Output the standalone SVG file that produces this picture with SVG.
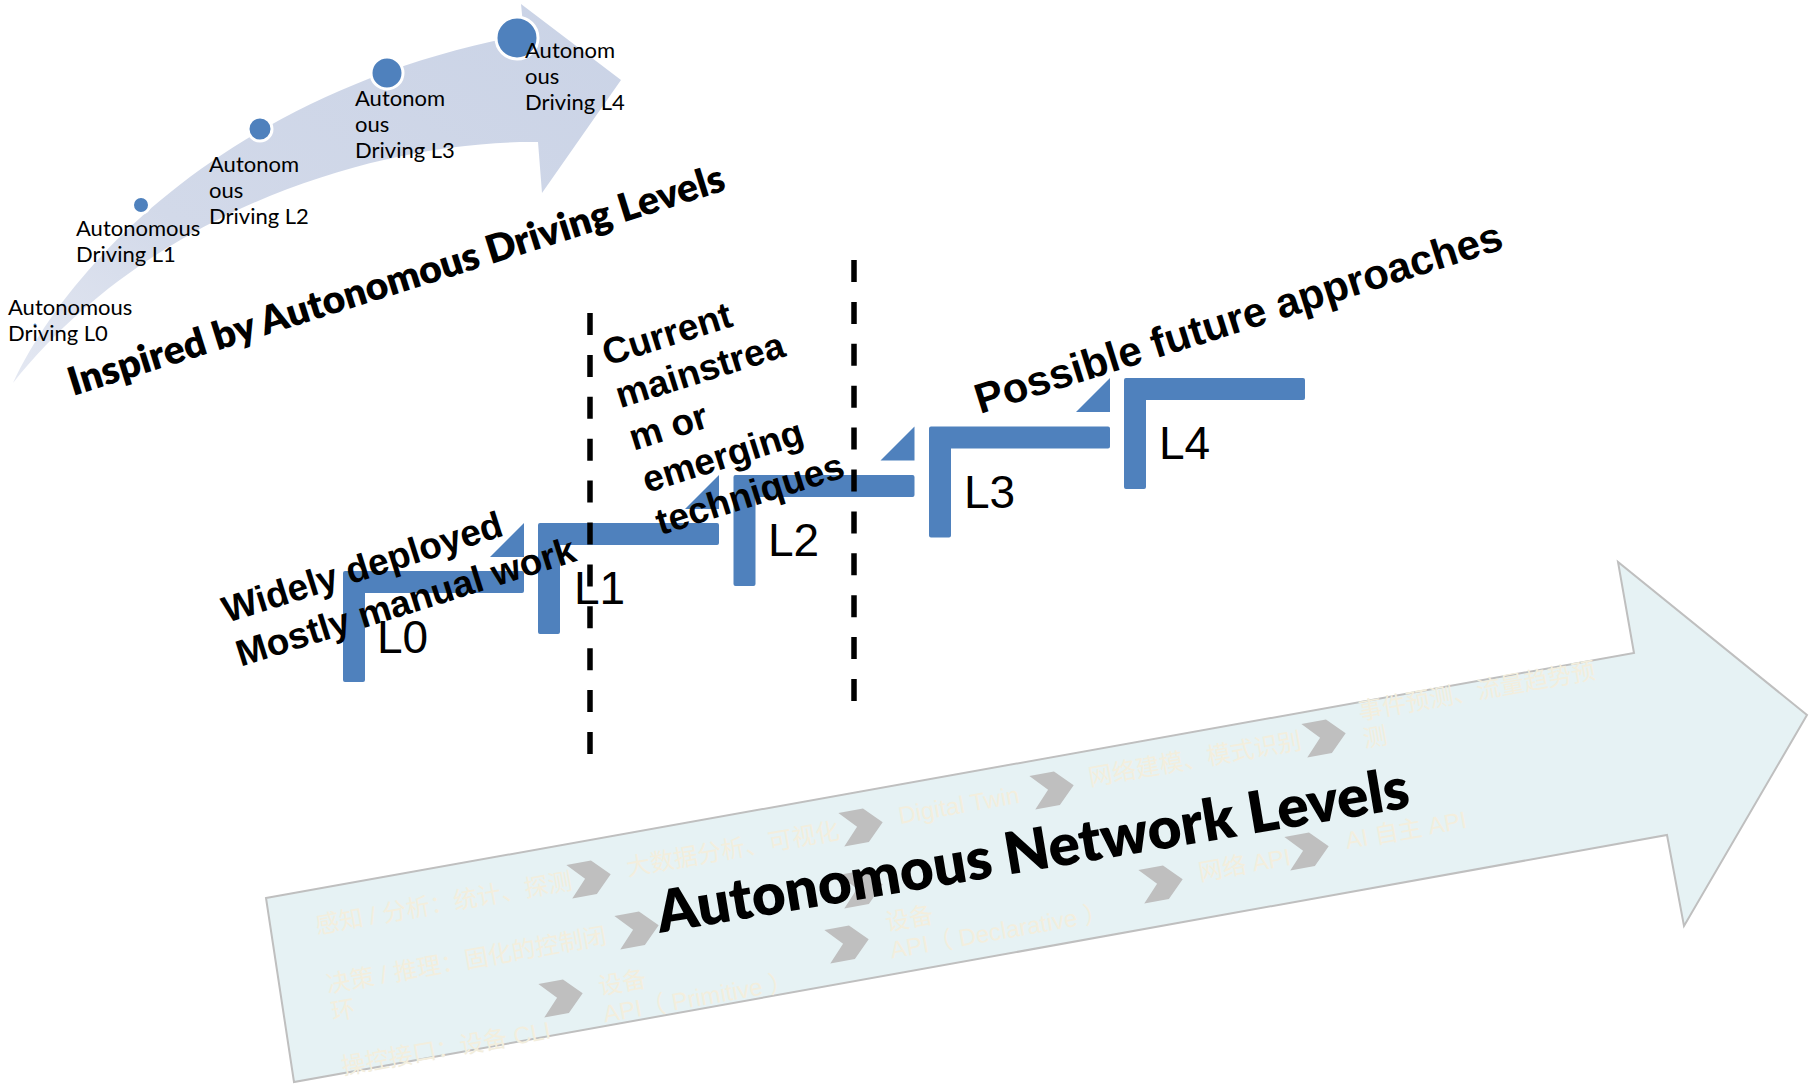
<svg xmlns="http://www.w3.org/2000/svg" width="1816" height="1088" viewBox="0 0 1816 1088">
  <defs>
    <linearGradient id="curveFill" x1="0" y1="1" x2="1" y2="0">
      <stop offset="0" stop-color="#E4E8F2"/>
      <stop offset="0.35" stop-color="#D2D9E9"/>
      <stop offset="1" stop-color="#CAD3E6"/>
    </linearGradient>
    <!-- chevron used between items inside the network arrow -->
    <path id="chev" d="M0,0 L25,0 L42,17 L25,34 L0,34 L16,17 Z"/>
    <style>
      .lbl { font-family: Lato, "Liberation Sans", sans-serif; font-size: 22px; fill: #000; }
      .dot { fill: #4F81BD; stroke: #FFFFFF; stroke-width: 3; }
      .step { fill: #4F81BD; }
      .lvl { font-family: "Liberation Sans", Arial, sans-serif; font-size: 46px; fill: #000; }
      .bold-arial { font-family: "Liberation Sans", Arial, sans-serif; font-weight: bold; fill: #000; }
      .bold-lato { font-family: Lato, "Liberation Sans", sans-serif; font-weight: 800; fill: #000; }
      .divider { stroke: #000; stroke-width: 5.5; stroke-dasharray: 22 19.9; fill: none; }
      .cn { font-family: "Liberation Sans", "Noto Sans CJK SC", sans-serif; font-size: 24px; fill: #F3EEDD; }
      .chev { fill: #BFBFBF; }
    </style>
  </defs>

  <!-- curved progress arrow (driving levels) -->
  <g id="driving-arrow">
    <path d="M13,383 C75,250 250,85 524,35 L521,4 L621,80 L542,193 L538,142 C380,140 150,210 13,383 Z" fill="url(#curveFill)"/>
  </g>

  <g id="driving-l0">
    <circle class="dot" cx="35" cy="325" r="3" stroke-width="1.5"/>
    <text class="lbl" x="8" y="315">Autonomous</text>
    <text class="lbl" x="8" y="341">Driving L0</text>
  </g>
  <g id="driving-l1">
    <circle class="dot" cx="141" cy="205" r="8.5"/>
    <text class="lbl" x="76" y="236">Autonomous</text>
    <text class="lbl" x="76" y="262">Driving L1</text>
  </g>
  <g id="driving-l2">
    <circle class="dot" cx="260" cy="129" r="12"/>
    <text class="lbl" x="209" y="172">Autonom</text>
    <text class="lbl" x="209" y="198">ous</text>
    <text class="lbl" x="209" y="224">Driving L2</text>
  </g>
  <g id="driving-l3">
    <circle class="dot" cx="387" cy="73" r="16"/>
    <text class="lbl" x="355" y="106">Autonom</text>
    <text class="lbl" x="355" y="132">ous</text>
    <text class="lbl" x="355" y="158">Driving L3</text>
  </g>
  <g id="driving-l4">
    <circle class="dot" cx="517" cy="38" r="21"/>
    <text class="lbl" x="525" y="58">Autonom</text>
    <text class="lbl" x="525" y="84">ous</text>
    <text class="lbl" x="525" y="110">Driving L4</text>
  </g>

  <g id="title-driving">
    <text class="bold-lato" font-size="39" transform="translate(73,396) rotate(-17.5)" textLength="686" lengthAdjust="spacingAndGlyphs">Inspired by Autonomous Driving Levels</text>
  </g>

  <!-- staircase of network levels -->
  <g id="step-l0">
    <path class="step" d="M345,571 H522 Q524,571 524,573 V591 Q524,593 522,593 H365 V680 Q365,682 363,682 H345 Q343,682 343,680 V573 Q343,571 345,571 Z"/>
    <text class="lvl" x="377" y="653">L0</text>
  </g>
  <g id="step-l1">
    <path class="step" d="M540,523 H717 Q719,523 719,525 V543 Q719,545 717,545 H560 V632 Q560,634 558,634 H540 Q538,634 538,632 V525 Q538,523 540,523 Z"/>
    <text class="lvl" x="574" y="604">L1</text>
  </g>
  <g id="step-l2">
    <path class="step" d="M735.5,475 H912.5 Q914.5,475 914.5,477 V495 Q914.5,497 912.5,497 H755.5 V584 Q755.5,586 753.5,586 H735.5 Q733.5,586 733.5,584 V477 Q733.5,475 735.5,475 Z"/>
    <text class="lvl" x="768" y="556">L2</text>
  </g>
  <g id="step-l3">
    <path class="step" d="M931,426.5 H1108 Q1110,426.5 1110,428.5 V446.5 Q1110,448.5 1108,448.5 H951 V535.5 Q951,537.5 949,537.5 H931 Q929,537.5 929,535.5 V428.5 Q929,426.5 931,426.5 Z"/>
    <text class="lvl" x="964" y="508">L3</text>
  </g>
  <g id="step-l4">
    <path class="step" d="M1126,378 H1303 Q1305,378 1305,380 V398 Q1305,400 1303,400 H1146 V487 Q1146,489 1144,489 H1126 Q1124,489 1124,487 V380 Q1124,378 1126,378 Z"/>
    <text class="lvl" x="1159" y="459">L4</text>
  </g>
  <g id="step-risers">
    <path class="step" d="M524,523 V557 H490 Z"/>
    <path class="step" d="M719,475 V509 H685 Z"/>
    <path class="step" d="M914.5,426.5 V460.5 H880.5 Z"/>
    <path class="step" d="M1110,378 V412 H1076 Z"/>
  </g>

  <g id="dividers">
    <line class="divider" x1="590" y1="313" x2="590" y2="754"/>
    <line class="divider" x1="854" y1="260" x2="854" y2="701"/>
  </g>

  <g id="note-widely">
    <text class="bold-arial" font-size="37" transform="translate(227,623) rotate(-17.5)">
      <tspan x="0" y="0">Widely deployed</tspan>
      <tspan x="0" y="46">Mostly manual work</tspan>
    </text>
  </g>
  <g id="note-current">
    <text class="bold-arial" font-size="37" transform="translate(607,366) rotate(-17.5)">
      <tspan x="0" y="0">Current</tspan>
      <tspan x="0" y="44.4">mainstrea</tspan>
      <tspan x="0" y="88.8">m or</tspan>
      <tspan x="0" y="133.2">emerging</tspan>
      <tspan x="0" y="177.6">techniques</tspan>
    </text>
  </g>
  <g id="note-future">
    <text class="bold-arial" font-size="42" transform="translate(980,414) rotate(-17.5)">Possible future approaches</text>
  </g>

  <!-- network levels arrow -->
  <g id="network-arrow">
    <polygon points="266,898 1634,653 1618,562 1807,715 1684,926 1667,835 294,1082" fill="#E6F2F4" stroke="#BFBFBF" stroke-width="2"/>
  </g>

  <g id="network-items">
    <text class="cn" transform="translate(317,934) rotate(-10)">感知 / 分析：统计、探测</text>
    <text class="cn" transform="translate(628,876) rotate(-10)">大数据分析、可视化</text>
    <text class="cn" transform="translate(900,824) rotate(-10)">Digital Twin</text>
    <text class="cn" transform="translate(1090,786) rotate(-10)">网络建模、模式识别</text>
    <text class="cn" transform="translate(1360,720) rotate(-10)"><tspan x="0" y="0">事件预测、流量趋势预</tspan><tspan x="0" y="28">测</tspan></text>
    <text class="cn" transform="translate(328,993) rotate(-10)"><tspan x="0" y="0">决策 / 推理：固化的控制闭</tspan><tspan x="0" y="28">环</tspan></text>
    <text class="cn" transform="translate(343,1075) rotate(-10)">操控接口：设备 CLI</text>
    <text class="cn" transform="translate(600,995) rotate(-10)"><tspan x="0" y="0">设备</tspan><tspan x="0" y="28">API（ Primitive ）</tspan></text>
    <text class="cn" transform="translate(887,931) rotate(-10)"><tspan x="0" y="0">设备</tspan><tspan x="0" y="28">API（ Declarative ）</tspan></text>
    <text class="cn" transform="translate(1200,881) rotate(-10)">网络 API</text>
    <text class="cn" transform="translate(1347,849) rotate(-10)">AI 自主 API</text>
  </g>

  <g id="connectors">
    <use href="#chev" class="chev" transform="translate(590,878) rotate(-10) translate(-21,-17)"/>
    <use href="#chev" class="chev" transform="translate(862,826) rotate(-10) translate(-21,-17)"/>
    <use href="#chev" class="chev" transform="translate(1053,789) rotate(-10) translate(-21,-17)"/>
    <use href="#chev" class="chev" transform="translate(1325,737) rotate(-10) translate(-21,-17)"/>
    <use href="#chev" class="chev" transform="translate(638,929) rotate(-10) translate(-21,-17)"/>
    <use href="#chev" class="chev" transform="translate(862,888) rotate(-10) translate(-21,-17)"/>
    <use href="#chev" class="chev" transform="translate(562,997) rotate(-10) translate(-21,-17)"/>
    <use href="#chev" class="chev" transform="translate(848,943) rotate(-10) translate(-21,-17)"/>
    <use href="#chev" class="chev" transform="translate(1162,883) rotate(-10) translate(-21,-17)"/>
    <use href="#chev" class="chev" transform="translate(1308,850) rotate(-10) translate(-21,-17)"/>
  </g>

  <g id="title-network">
    <text class="bold-lato" font-size="58" transform="translate(660,933) rotate(-9.5)" textLength="762" lengthAdjust="spacingAndGlyphs">Autonomous Network Levels</text>
  </g>
</svg>
